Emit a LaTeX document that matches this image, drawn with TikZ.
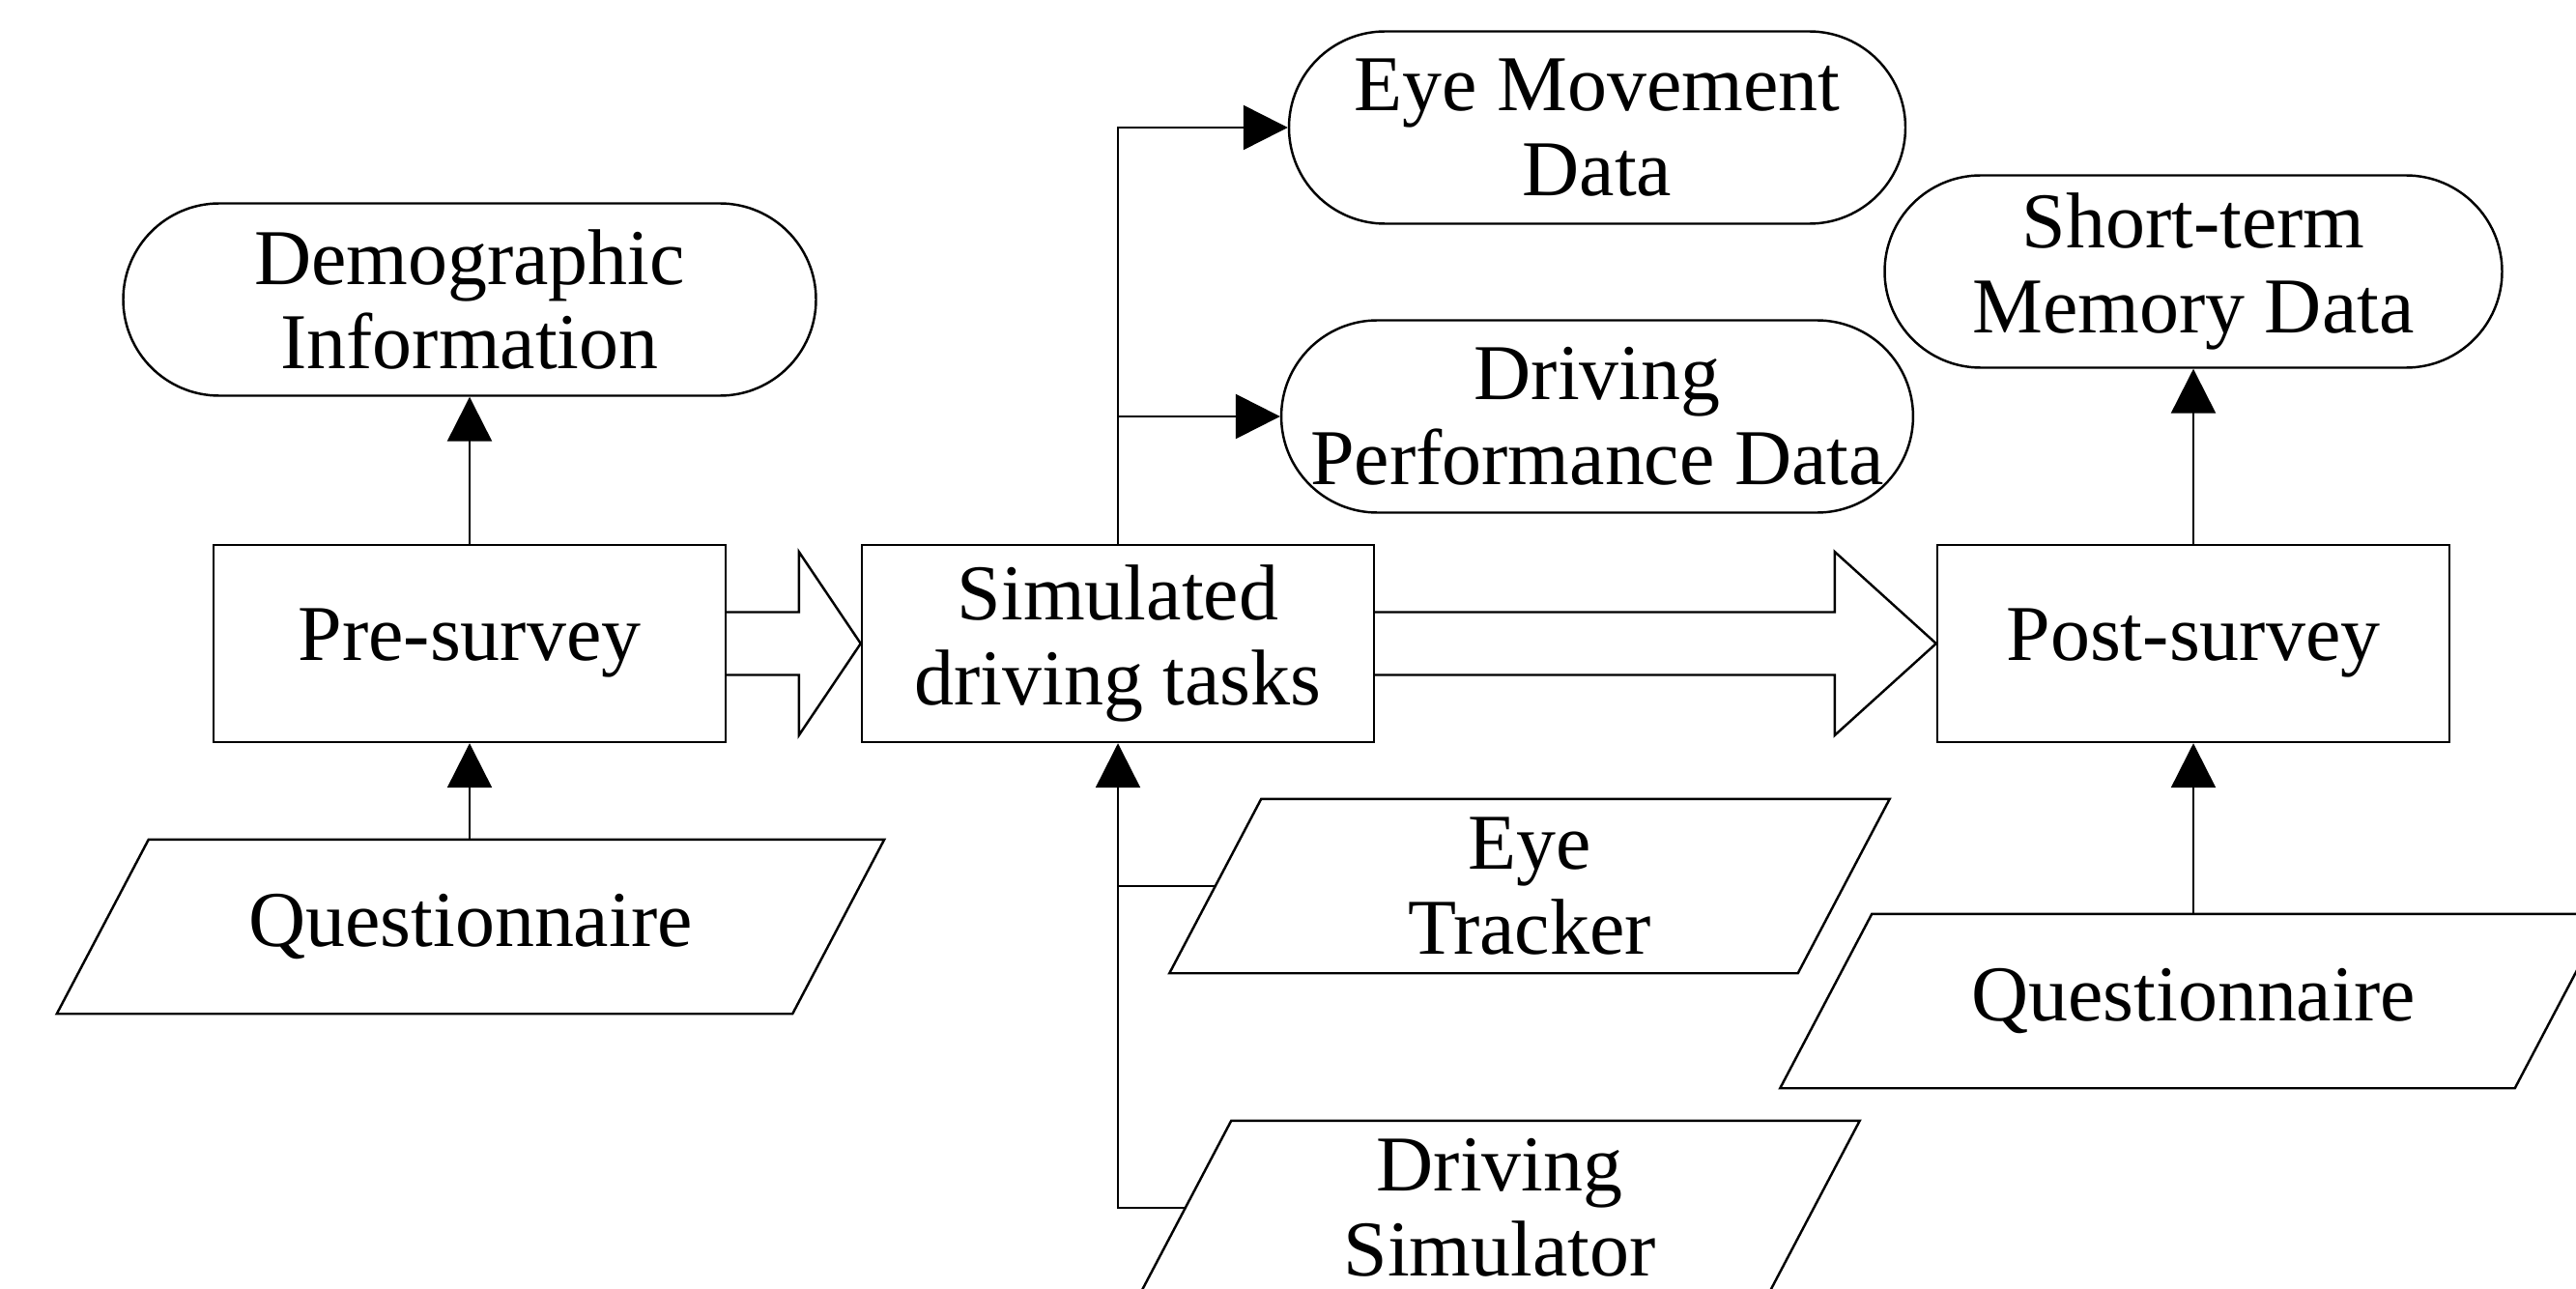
\documentclass[tikz,border=0pt]{standalone}
\usepackage{fontspec}
\setmainfont{Liberation Serif}
\usetikzlibrary{arrows.meta, shapes.misc, calc}

\tikzset{
  procbox/.style={draw, rectangle, minimum width=5.30cm, minimum height=2.04cm, inner sep=0pt, align=center},
  databox/.style={draw, rounded rectangle, minimum height=1.99cm, inner sep=0pt, align=center},
  inbox/.style={rectangle, minimum height=1.78cm, inner sep=0pt, align=center},
  flow/.style={-{Triangle[length=4.6mm, width=4.6mm]}},
}

\begin{document}
\begin{tikzpicture}[line width=0.7pt, font=\fontsize{23.3}{25}\selectfont]
        \clip (0, 0) rectangle (26.66, -13.34);

        % process boxes
        \node[procbox] (pre) at (4.86, -6.66) {Pre-survey};
        \node[procbox] (sim) at (11.57, -6.66) {Simulated\\driving tasks};
        \node[procbox] (post) at (22.70, -6.66) {Post-survey};

        % collected data
        \node[databox, minimum width=7.17cm] (demo) at (4.86, -3.10) {Demographic\\Information};
        \node[databox, minimum width=6.38cm] (eye) at (16.53, -1.32) {Eye Movement\\Data};
        \node[databox, minimum width=6.38cm] (perf) at (16.53, -4.31) {Driving\\Performance Data};
        \node[databox, minimum width=6.39cm] (mem) at (22.70, -2.81) {Short-term\\Memory Data};

        % instruments (parallelograms drawn round the nodes)
        \node[inbox, minimum width=7.59cm] (quest1) at (4.87, -9.59) {Questionnaire};
        \node[inbox, minimum width=6.48cm] (tracker) at (15.83, -9.17) {Eye\\Tracker};
        \node[inbox, minimum width=6.48cm] (simu) at (15.52, -12.50) {Driving\\Simulator};
        \node[inbox, minimum width=7.58cm] (quest2) at (22.70, -10.36) {Questionnaire};
        \foreach \n in {quest1, tracker, simu, quest2}
          \draw ($(\n.south west)+(-0.475, 0)$) -- ($(\n.south east)+(-0.475, 0)$)
            -- ($(\n.north east)+(0.475, 0)$) -- ($(\n.north west)+(0.475, 0)$) -- cycle;

        % hollow arrows
        \draw ($(pre.east)+(0, 0.325)$) -- ($(sim.west)+(-0.64, 0.325)$) -- ($(sim.west)+(-0.64, 0.95)$)
          -- (sim.west) -- ($(sim.west)+(-0.64, -0.95)$) -- ($(sim.west)+(-0.64, -0.325)$) -- ($(pre.east)+(0, -0.325)$);
        \draw ($(sim.east)+(0, 0.325)$) -- ($(post.west)+(-1.05, 0.325)$) -- ($(post.west)+(-1.05, 0.95)$)
          -- (post.west) -- ($(post.west)+(-1.05, -0.95)$) -- ($(post.west)+(-1.05, -0.325)$) -- ($(sim.east)+(0, -0.325)$);

        % connectors
        \draw[flow] (quest1.north -| pre.south) -- (pre.south);
        \draw[flow] (pre.north) -- (demo.south);
        \draw[flow] (sim.north) |- (eye.west);
        \draw[flow] (sim.north |- perf.west) -- (perf.west);
        \draw[flow] (simu.west) -| (sim.south);
        \draw (tracker.west) -- (tracker.west -| sim.south);
        \draw[flow] (quest2.north -| post.south) -- (post.south);
        \draw[flow] (post.north) -- (mem.south);

      \end{tikzpicture}
\end{document}
